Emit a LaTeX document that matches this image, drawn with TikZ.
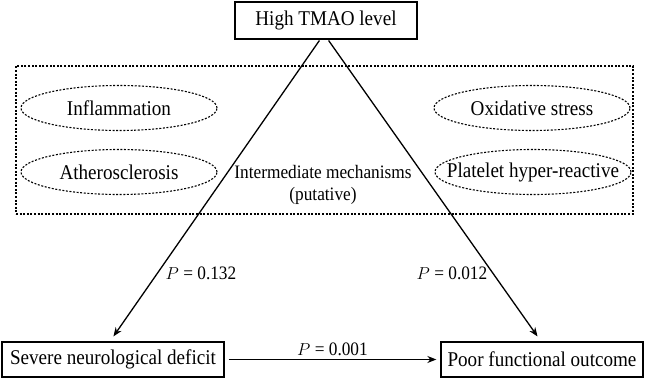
\documentclass[tikz,border=0pt]{standalone}
\usepackage{fontspec}
\setmainfont[FakeStretch=0.91]{Liberation Serif}
\usetikzlibrary{shapes.geometric,arrows.meta}

\tikzstyle{stagebox}=[rectangle, draw, line width=1.3pt, minimum height=35pt, inner sep=3pt, font=\fontsize{21}{24}\selectfont]
\tikzstyle{dotline}=[line width=1.1pt, dash pattern=on 2pt off 1.6pt]
\tikzstyle{mechoval}=[ellipse, draw, dotline, inner xsep=-25pt, inner ysep=0pt, minimum width=196pt, minimum height=45pt, font=\fontsize{21}{24}\selectfont]
\tikzstyle{plabel}=[font=\fontsize{19}{22}\selectfont]
\tikzstyle{link}=[line width=1.3pt, -{Stealth[length=9pt,width=7pt]}]

\begin{document}
\begin{tikzpicture}[x=1pt, y=-1pt]
      \useasboundingbox (0,0) rectangle (646,379);
      \node[stagebox, minimum width=182pt, minimum height=37pt] (tmao) at (326, 20.5) {High TMAO level};
      \node[draw, dotline, minimum width=617pt, minimum height=148pt] (mech) at (324.5, 140) {};
      \node[mechoval] (infl) at (119, 108) {Inflammation};
      \node[mechoval] (athe) at (119, 172) {Atherosclerosis};
      \node[mechoval] (oxid) at (532, 108) {Oxidative stress};
      \node[mechoval] (plat) at (533, 172) {Platelet hyper-reactive};
      \node[plabel, align=center] (inter) at (323, 185) {Intermediate mechanisms\\(putative)};
      \node[stagebox, minimum width=222pt] (deficit) at (113, 359.5) {Severe neurological deficit};
      \node[stagebox, minimum width=202pt] (outcome) at (542, 359.5) {Poor functional outcome};
      \draw[link, shorten <=1pt, shorten >=6pt] ([xshift=-6pt]tmao.south) -- ([xshift=-3pt]deficit.north);
      \draw[link, shorten <=1pt, shorten >=6pt] ([xshift=2pt]tmao.south) -- ([xshift=-1pt]outcome.north);
      \draw[link, shorten <=4pt, shorten >=4pt] (deficit) -- node[above, plabel]{$P$ = 0.001} (outcome);
      \node[plabel] (pleft) at (201, 273) {$P$ = 0.132};
      \node[plabel] (pright) at (452, 273) {$P$ = 0.012};
    \end{tikzpicture}
\end{document}
